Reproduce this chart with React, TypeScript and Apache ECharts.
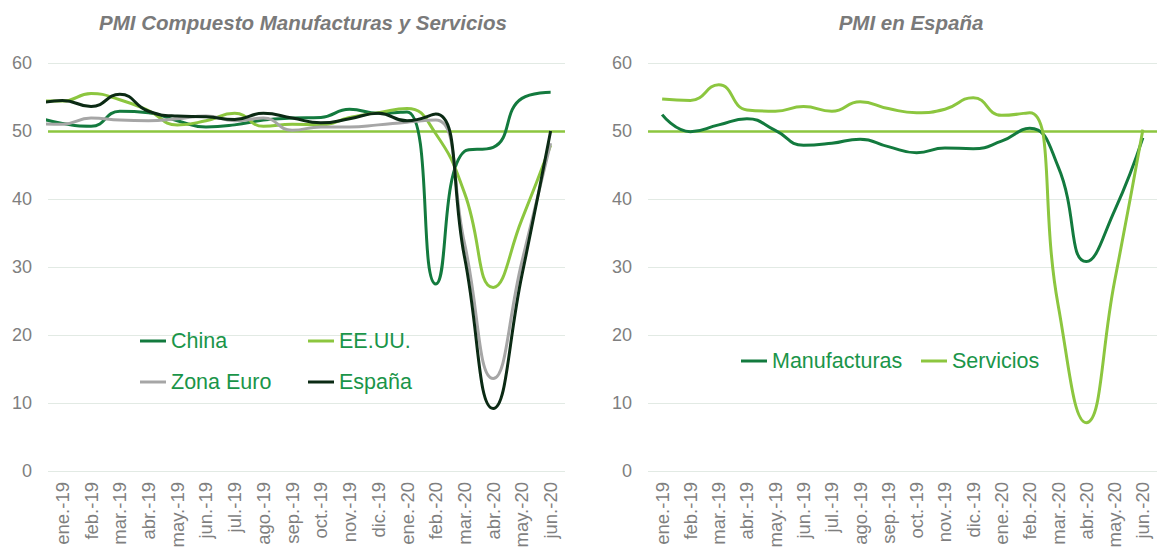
import React, { useEffect, useRef } from "react";
import * as echarts from "echarts";

const months = [
  "ene.-19", "feb.-19", "mar.-19", "abr.-19", "may.-19", "jun.-19",
  "jul.-19", "ago.-19", "sep.-19", "oct.-19", "nov.-19", "dic.-19",
  "ene.-20", "feb.-20", "mar.-20", "abr.-20", "may.-20", "jun.-20",
];

// value of the month before the first label (dic.-18), partly visible at the left edge
const chinaPrev = 52.2;
const usPrev = 54.4;
const euroPrev = 51.1;
const spainPrev = 53.8;

const china = [51.1, 50.7, 52.9, 52.7, 51.5, 50.6, 50.9, 51.6, 51.9, 52.0, 53.2, 52.6, 52.8, 27.5, 47.0, 47.6, 54.8, 55.7];
const eeuu = [54.4, 55.5, 54.6, 53.0, 50.9, 51.5, 52.6, 50.7, 51.0, 50.9, 52.0, 52.7, 53.3, 49.6, 40.9, 27.0, 37.0, 47.9];
const zonaEuro = [51.0, 51.9, 51.6, 51.5, 51.8, 52.2, 51.5, 51.9, 50.1, 50.6, 50.6, 50.9, 51.3, 51.6, 33.5, 13.6, 30.8, 48.2];
const espana = [54.5, 53.6, 55.4, 52.9, 52.2, 52.1, 51.7, 52.6, 51.9, 51.2, 51.8, 52.6, 51.5, 52.5, 31.5, 9.2, 28.8, 50.0];

const manufacturas = [52.4, 49.9, 50.9, 51.8, 50.1, 47.9, 48.2, 48.8, 47.7, 46.8, 47.5, 47.4, 48.5, 50.4, 44.8, 30.8, 38.3, 49.0];
const servicios = [54.7, 54.5, 56.8, 53.1, 52.9, 53.6, 52.9, 54.3, 53.3, 52.7, 53.2, 54.9, 52.3, 52.7, 24.5, 7.1, 27.9, 50.2];

const yTicks = { min: 0, max: 60, interval: 10 };
const threshold = 50;

const FONT = '"Liberation Sans", Arial, sans-serif';
const C_CHINA = "#137a3e";
const C_US = "#8cc63f";
const C_EURO = "#a6a6a6";
const C_SPAIN = "#0b2a14";
const C_LEGEND = "#1a9549";
const C_AXIS = "#7f7f7f";
const C_GRID = "#e2eae4";

function withPrev(prev: number, arr: number[]) {
  return [[-1, prev], ...arr.map((v, i) => [i, v])];
}

export default function App() {
  const ref = useRef<HTMLDivElement>(null);

  useEffect(() => {
    if (!ref.current) return;
    const chart = echarts.init(ref.current, undefined, { renderer: "svg" });

    const catAxis = (gridIndex: number) => ({
      gridIndex,
      type: "category",
      data: months,
      boundaryGap: true,
      axisLine: { show: false },
      axisTick: { show: false },
      splitLine: { show: false },
      axisLabel: {
        rotate: 90,
        interval: 0,
        color: C_AXIS,
        fontSize: 18.5,
        fontFamily: FONT,
        margin: 11,
      },
    });

    const valAxis = (gridIndex: number) => ({
      gridIndex,
      type: "value",
      min: yTicks.min,
      max: yTicks.max,
      interval: yTicks.interval,
      axisLine: { show: false },
      axisTick: { show: false },
      axisLabel: { color: C_AXIS, fontSize: 18, fontFamily: FONT, margin: 16 },
      splitLine: { lineStyle: { color: C_GRID, width: 1 } },
    });

    const lineSeries = (name: string, color: string, data: any, xAxisIndex: number, yAxisIndex: number, mark?: boolean) => ({
      name,
      type: "line",
      xAxisIndex,
      yAxisIndex,
      data,
      smooth: 0.5,
      symbol: "none",
      clip: true,
      lineStyle: { color, width: 3 },
      itemStyle: { color },
      z: 3,
      markLine: mark
        ? {
            silent: true,
            symbol: ["none", "none"],
            label: { show: false },
            lineStyle: { color: C_US, width: 2.5, type: "solid" },
            data: [{ yAxis: threshold }],
            z: 2,
          }
        : undefined,
    });

    const legendItem = (name: string, left: number, top: number) => ({
      data: [name],
      left,
      top,
      padding: 0,
      icon: "rect",
      itemWidth: 26,
      itemHeight: 3,
      selectedMode: false,
      textStyle: { fontSize: 21.5, color: C_LEGEND, fontFamily: FONT, lineHeight: 24 },
    });

    const titleStyle = {
      fontFamily: FONT,
      fontSize: 20.5,
      fontWeight: "bold",
      fontStyle: "italic",
      fill: "#7a7a7a",
      align: "center",
      verticalAlign: "middle",
    };

    chart.setOption({
      animation: false,
      grid: [
        { left: 48, top: 63, width: 517, height: 408 },
        { left: 648, top: 63, width: 517, height: 408 },
      ],
      xAxis: [
        catAxis(0),
        { gridIndex: 0, type: "value", min: -0.5, max: 17.5, show: false },
        catAxis(1),
      ],
      yAxis: [valAxis(0), valAxis(1)],
      legend: [
        legendItem("China", 140, 329),
        legendItem("EE.UU.", 308, 329),
        legendItem("Zona Euro", 140, 370),
        legendItem("España", 308, 370),
        legendItem("Manufacturas", 741, 349),
        legendItem("Servicios", 921, 349),
      ],
      graphic: [
        {
          type: "text",
          x: 303,
          y: 22,
          style: { ...titleStyle, text: "PMI Compuesto Manufacturas y Servicios" },
        },
        {
          type: "text",
          x: 911,
          y: 22,
          style: { ...titleStyle, text: "PMI en España" },
        },
      ],
      series: [
        lineSeries("China", C_CHINA, withPrev(chinaPrev, china), 1, 0, true),
        lineSeries("EE.UU.", C_US, withPrev(usPrev, eeuu), 1, 0),
        lineSeries("Zona Euro", C_EURO, withPrev(euroPrev, zonaEuro), 1, 0),
        lineSeries("España", C_SPAIN, withPrev(spainPrev, espana), 1, 0),
        lineSeries("Manufacturas", C_CHINA, manufacturas, 2, 1, true),
        lineSeries("Servicios", C_US, servicios, 2, 1),
      ],
    });

    return () => chart.dispose();
  }, []);

  return (
    <div
      ref={ref}
      style={{ position: "fixed", left: 0, top: 0, width: 1157, height: 554, background: "#fff" }}
    />
  );
}
